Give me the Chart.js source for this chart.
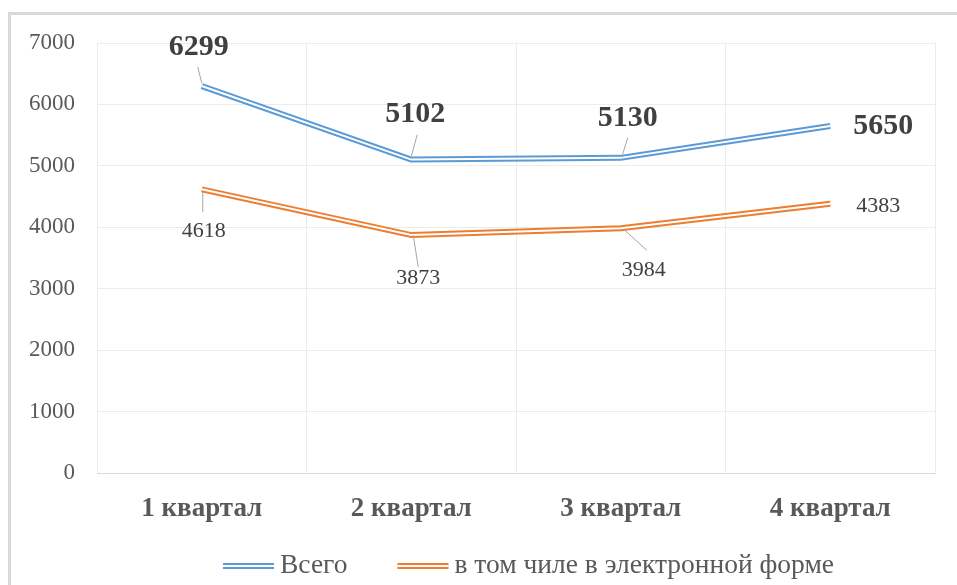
<!DOCTYPE html>
<html lang="ru">
<head>
<meta charset="utf-8">
<title>Документы по кварталам</title>
<script src="https://cdn.jsdelivr.net/npm/chart.js@4.4.0/dist/chart.umd.min.js"></script>
<style>
    html, body {
        margin: 0;
        padding: 0;
        background: #ffffff;
        overflow: hidden;
    }
    .chart-frame {
        position: absolute;
        left: 8px;
        top: 12px;
        width: 946px;
        height: 570px;
        border-left: 3px solid #d9d9d9;
        border-top: 3px solid #d9d9d9;
    }
    #docsChart {
        display: block;
    }
</style>
</head>
<body>
<div class="chart-frame">
    <canvas id="docsChart" width="946" height="570"></canvas>
</div>
<script>
// Data
const quarters = ['1 квартал', '2 квартал', '3 квартал', '4 квартал'];
const totalDocs = [6299, 5102, 5130, 5650];
const electronicDocs = [4618, 3873, 3984, 4383];
const yTicks = [0, 1000, 2000, 3000, 4000, 5000, 6000, 7000];

const seriesNames = ['Всего', 'в том чиле в электронной форме'];
const seriesColors = ['#5b9bd5', '#ed7d31'];

const SERIF = '"Liberation Serif", "Times New Roman", serif';
const TEXT_GRAY = '#595959';
const LABEL_GRAY = '#404040';

// Label placement (pixel offsets from the point) and leader lines
const labelLayout = {
    0: {
        font: 'bold 30px ' + SERIF,
        spots: [
            { dx: -3, dy: -39, lead: [-4, -19, 0, -3] },
            { dx: 4, dy: -45, lead: [6, -25, 0, -3] },
            { dx: 7, dy: -40, lead: [7, -20, 1, -1] },
            { dx: 53, dy: 0 }
        ]
    },
    1: {
        font: '22px ' + SERIF,
        spots: [
            { dx: 2, dy: 42, lead: [1, 3, 1, 23] },
            { dx: 7, dy: 43, lead: [2, 0, 7, 32] },
            { dx: 23, dy: 42, lead: [4, 2, 26, 22] },
            { dx: 48, dy: 2 }
        ]
    }
};

// Excel-like value labels with leader lines
const valueLabels = {
    id: 'valueLabels',
    afterDatasetsDraw(chart) {
        const ctx = chart.ctx;
        Object.keys(labelLayout).forEach(key => {
            const idx = Number(key);
            const cfg = labelLayout[idx];
            const meta = chart.getDatasetMeta(idx);
            const values = chart.data.datasets[idx].data;
            meta.data.forEach((pt, i) => {
                const spot = cfg.spots[i];
                if (!spot) return;
                ctx.save();
                if (spot.lead) {
                    ctx.strokeStyle = '#a6a6a6';
                    ctx.lineWidth = 1;
                    ctx.beginPath();
                    ctx.moveTo(pt.x + spot.lead[0], pt.y + spot.lead[1]);
                    ctx.lineTo(pt.x + spot.lead[2], pt.y + spot.lead[3]);
                    ctx.stroke();
                }
                ctx.font = cfg.font;
                ctx.fillStyle = LABEL_GRAY;
                ctx.textAlign = 'center';
                ctx.textBaseline = 'middle';
                ctx.fillText(String(values[i]), pt.x + spot.dx, pt.y + spot.dy);
                ctx.restore();
            });
        });
    }
};

// Legend with double-line swatches
const doubleLegend = {
    id: 'doubleLegend',
    afterDraw(chart) {
        const ctx = chart.ctx;
        const y = 551;
        let x = 212;
        ctx.save();
        ctx.font = '27.5px ' + SERIF;
        ctx.textBaseline = 'middle';
        ctx.textAlign = 'left';
        [0, 1].forEach(idx => {
            const ds = chart.data.datasets[idx];
            ctx.lineCap = 'butt';
            ctx.strokeStyle = ds.borderColor;
            ctx.lineWidth = 6;
            ctx.beginPath();
            ctx.moveTo(x, y);
            ctx.lineTo(x + 51, y);
            ctx.stroke();
            ctx.strokeStyle = '#ffffff';
            ctx.lineWidth = 2;
            ctx.beginPath();
            ctx.moveTo(x, y);
            ctx.lineTo(x + 51, y);
            ctx.stroke();
            ctx.fillStyle = TEXT_GRAY;
            ctx.fillText(ds.label, x + 57, y);
            x += 57 + ctx.measureText(ds.label).width + 50;
        });
        ctx.restore();
    }
};

const ctx = document.getElementById('docsChart');

new Chart(ctx, {
    type: 'line',
    data: {
        labels: quarters,
        datasets: [
            {
                label: seriesNames[0],
                data: totalDocs,
                borderColor: seriesColors[0],
                borderWidth: 6,
                order: 1
            },
            {
                label: seriesNames[1],
                data: electronicDocs,
                borderColor: seriesColors[1],
                borderWidth: 6,
                order: 1
            },
            // white inner strokes -> double line look
            {
                label: 'inner-0',
                data: totalDocs,
                borderColor: '#ffffff',
                borderWidth: 2,
                order: 0
            },
            {
                label: 'inner-1',
                data: electronicDocs,
                borderColor: '#ffffff',
                borderWidth: 2,
                order: 0
            }
        ]
    },
    options: {
        responsive: false,
        animation: false,
        layout: {
            padding: { left: 0, right: 22, top: 28, bottom: 62 }
        },
        elements: {
            line: { tension: 0, fill: false, borderJoinStyle: 'miter' },
            point: { radius: 0, hoverRadius: 0 }
        },
        plugins: {
            legend: { display: false },
            tooltip: { enabled: false }
        },
        scales: {
            x: {
                offset: true,
                grid: {
                    offset: true,
                    color: '#ececec',
                    drawTicks: false
                },
                border: { color: '#d9d9d9', width: 1 },
                ticks: {
                    padding: 20,
                    color: TEXT_GRAY,
                    font: { family: SERIF, size: 27, weight: 'bold' }
                },
                afterFit(scale) {
                    scale.height = 50;
                }
            },
            y: {
                min: 0,
                max: 7000,
                afterBuildTicks(scale) {
                    scale.ticks = yTicks.map(v => ({ value: v }));
                },
                grid: {
                    color: '#ececec',
                    drawTicks: false
                },
                border: { display: false },
                ticks: {
                    padding: 22,
                    color: TEXT_GRAY,
                    font: { family: SERIF, size: 23 },
                    callback: value => String(value)
                },
                afterFit(scale) {
                    scale.width = 86;
                    // keep the top label from pushing the plot area down
                    scale.paddingTop = 0;
                    scale.paddingBottom = 0;
                }
            }
        }
    },
    plugins: [valueLabels, doubleLegend]
});
</script>
</body>
</html>
